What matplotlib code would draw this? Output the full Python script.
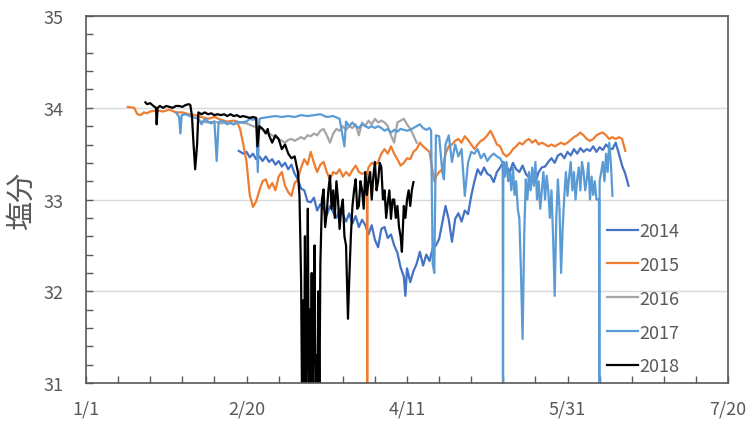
import matplotlib.pyplot as plt
from matplotlib.ticker import MultipleLocator
import numpy as np

plt.rcParams['font.family'] = ['Noto Sans CJK JP', 'DejaVu Sans']

# day of year (1/1 = 0) and salinity for each year
days_2014 = [47.6, 49, 50, 51, 52, 53, 54, 55, 56, 57, 58, 59, 60, 61, 62, 63, 64, 65, 66, 67,
             68, 69, 70, 71, 72, 73, 74, 75, 76, 77, 78, 79, 80, 81, 82, 83, 84, 85, 86, 87,
             88, 89, 90, 91, 92, 93, 94, 95, 96, 97, 98, 99, 99.5, 100, 101, 102, 103, 104, 105, 106,
             107, 108, 109, 110, 111, 112, 113, 114, 115, 116, 117, 118, 119, 120, 121, 122, 123, 124, 125, 126,
             127, 128, 129, 130, 131, 132, 133, 134, 135, 136, 137, 138, 139, 140, 141, 142, 143, 144, 145, 146,
             147, 148, 149, 150, 151, 152, 153, 154, 155, 156, 157, 158, 159, 160, 161, 162, 163, 164, 165, 166,
             167, 168, 169]
sal_2014 = [33.53, 33.5, 33.52, 33.46, 33.5, 33.44, 33.47, 33.42, 33.47, 33.41, 33.44, 33.38, 33.42, 33.36, 33.4, 33.33, 33.38, 33.28, 33.22, 33.12,
            33.1, 32.98, 32.97, 33.02, 32.88, 32.95, 32.9, 32.83, 32.93, 32.86, 32.8, 32.9, 32.84, 32.76, 32.85, 32.74, 32.82, 32.7, 32.78, 32.72,
            32.62, 32.72, 32.56, 32.48, 32.68, 32.7, 32.58, 32.62, 32.5, 32.42, 32.26, 32.16, 31.95, 32.25, 32.1, 32.22, 32.3, 32.43, 32.28, 32.4,
            32.33, 32.47, 32.5, 32.57, 32.75, 32.93, 32.78, 32.54, 32.79, 32.85, 32.76, 32.88, 32.84, 33.04, 33.2, 33.33, 33.27, 33.35, 33.28, 33.26,
            33.19, 33.3, 33.35, 33.41, 33.36, 33.3, 33.4, 33.33, 33.3, 33.37, 33.28, 33.24, 33.2, 33.19, 33.3, 33.35, 33.36, 33.41, 33.45, 33.4,
            33.48, 33.5, 33.45, 33.52, 33.48, 33.55, 33.5, 33.56, 33.52, 33.55, 33.53, 33.58, 33.52, 33.57, 33.54, 33.6, 33.56, 33.55, 33.62, 33.5,
            33.37, 33.28, 33.15]

days_2015 = [13, 15, 16, 17, 18, 19, 20, 22, 24, 26, 28, 30, 32, 34, 36, 38, 40, 42, 44, 46,
             47, 48, 49, 50, 51, 52, 53, 54, 55, 56, 57, 58, 59, 60, 61, 62, 63, 64, 65, 66,
             67, 68, 69, 70, 71, 72, 73, 74, 75, 76, 77, 78, 79, 80, 81, 82, 83, 84, 85, 86,
             87.5, 87.6, 87.7, 88, 89, 90, 91, 92, 93, 94, 95, 96, 97, 98, 99, 100, 101, 102, 103, 104,
             105, 106, 107, 108, 108.6, 109, 110, 111, 112, 113, 114, 115, 116, 117, 118, 119, 120, 121, 122, 123,
             124, 125, 126, 127, 128, 129, 130, 131, 132, 133, 134, 135, 136, 137, 138, 139, 140, 141, 142, 143,
             144, 145, 146, 147, 148, 149, 150, 151, 152, 153, 154, 155, 156, 157, 158, 159, 160, 161, 162, 163,
             164, 165, 166, 167, 168]
sal_2015 = [34.01, 34.0, 33.93, 33.92, 33.95, 33.94, 33.96, 33.97, 33.96, 33.98, 33.95, 33.95, 33.93, 33.92, 33.9, 33.88, 33.9, 33.87, 33.85, 33.86,
            33.85, 33.77, 33.6, 33.41, 33.05, 32.92, 32.98, 33.1, 33.2, 33.22, 33.12, 33.18, 33.1, 33.25, 33.3, 33.15, 33.08, 33.04, 33.18, 33.22,
            33.35, 33.44, 33.38, 33.52, 33.4, 33.3, 33.38, 33.41, 33.3, 33.22, 33.3, 33.28, 33.33, 33.25, 33.3, 33.26, 33.32, 33.37, 33.3, 33.28,
            33.3, 30.8, 33.3, 33.35, 33.4, 33.38, 33.41, 33.5, 33.55, 33.5, 33.58, 33.5, 33.44, 33.37, 33.4, 33.45, 33.44, 33.52, 33.55, 33.62,
            33.58, 33.55, 33.52, 33.3, 33.19, 33.25, 33.3, 33.33, 33.5, 33.58, 33.6, 33.64, 33.66, 33.62, 33.69, 33.65, 33.6, 33.55, 33.6, 33.64,
            33.66, 33.7, 33.75, 33.68, 33.6, 33.58, 33.5, 33.47, 33.5, 33.55, 33.58, 33.62, 33.6, 33.64, 33.66, 33.62, 33.65, 33.6, 33.62, 33.6,
            33.58, 33.6, 33.58, 33.6, 33.62, 33.6, 33.62, 33.65, 33.68, 33.7, 33.73, 33.7, 33.66, 33.64, 33.66, 33.7, 33.72, 33.73, 33.7, 33.66,
            33.68, 33.66, 33.68, 33.66, 33.53]

days_2016 = [36, 38, 40, 42, 44, 46, 48, 50, 52, 54, 55, 56, 57, 58, 59, 60, 61, 62, 63, 64,
             65, 66, 67, 68, 69, 70, 71, 72, 73, 74, 75, 76, 77, 78, 79, 80, 81, 82, 83, 84,
             85, 86, 87, 88, 89, 90, 91, 92, 93, 94, 95, 96, 97, 98, 99, 100, 101, 102, 103]
sal_2016 = [33.85, 33.84, 33.85, 33.83, 33.84, 33.82, 33.84, 33.83, 33.8, 33.78, 33.77, 33.74, 33.72, 33.7, 33.68, 33.66, 33.64, 33.62, 33.65, 33.66,
            33.64, 33.66, 33.68, 33.66, 33.7, 33.69, 33.72, 33.7, 33.75, 33.77, 33.7, 33.62, 33.72, 33.77, 33.75, 33.8, 33.76, 33.8, 33.78, 33.82,
            33.7, 33.84, 33.8, 33.86, 33.82, 33.88, 33.84, 33.86, 33.84, 33.8, 33.7, 33.62, 33.84, 33.86, 33.88, 33.82, 33.77, 33.7, 33.62]

days_2017 = [28, 29, 29.4, 29.8, 31, 33, 35, 36, 37, 38, 39, 40, 40.7, 41.3, 42, 43, 44, 45, 46, 47,
             48, 50, 51, 52, 53, 53.5, 54, 55, 57, 59, 61, 63, 65, 67, 69, 71, 73, 75, 77, 79,
             80.5, 81, 82, 83, 84, 85, 86, 87, 88, 89, 90, 91, 92, 93, 94, 95, 96, 97, 98, 99,
             100, 101, 102, 103, 104, 105, 106, 107, 107.5, 108, 108.5, 109, 110, 111, 111.5, 112, 113, 114, 115, 116,
             117, 118, 119, 120, 121, 122, 123, 124, 125, 126, 127, 128, 129, 129.8, 129.9, 130.0, 130.5, 131, 131.5, 132,
             132.5, 133, 133.5, 134, 134.5, 135, 135.5, 136, 136.5, 137, 137.5, 138, 138.5, 139, 139.5, 140, 140.5, 141, 141.5, 142,
             142.5, 143, 143.5, 144, 144.5, 145, 145.5, 146, 146.5, 147, 147.5, 148, 148.5, 149, 149.5, 150, 150.5, 151, 151.5, 152,
             152.5, 153, 153.5, 154, 154.5, 155, 155.5, 156, 156.5, 157, 157.5, 158, 158.5, 159, 159.8, 159.9, 160.0, 160.5, 161, 161.5,
             162, 162.5, 163, 163.5, 164]
sal_2017 = [33.95, 33.9, 33.72, 33.92, 33.93, 33.9, 33.88, 33.82, 33.88, 33.85, 33.83, 33.85, 33.42, 33.84, 33.86, 33.85, 33.82, 33.84, 33.82, 33.85,
            33.84, 33.85, 33.88, 33.87, 33.88, 33.3, 33.88, 33.89, 33.9, 33.91, 33.9, 33.91, 33.9, 33.92, 33.91, 33.92, 33.93, 33.9, 33.91, 33.88,
            33.58, 33.85, 33.8, 33.84, 33.8, 33.78, 33.82, 33.8, 33.78, 33.8, 33.78, 33.8, 33.78, 33.75, 33.77, 33.73, 33.76, 33.74, 33.77, 33.76,
            33.75, 33.76, 33.78, 33.8, 33.82, 33.78, 33.76, 33.78, 33.75, 32.3, 32.2, 33.7, 33.69, 33.3, 33.22, 33.6, 33.7, 33.41, 33.6, 33.47,
            33.55, 33.04, 33.4, 33.52, 33.5, 33.55, 33.45, 33.5, 33.42, 33.47, 33.5, 33.47, 33.45, 33.4, 30.8, 33.4, 33.25, 33.41, 33.2, 33.3,
            33.1, 33.35, 33.05, 33.2, 32.9, 32.79, 32.2, 31.48, 32.6, 33.22, 33.0, 33.3, 33.1, 33.35, 33.15, 33.41, 33.0, 33.2, 32.9, 33.1,
            33.3, 33.0, 33.26, 33.1, 32.8, 33.1, 32.6, 31.95, 32.8, 33.22, 32.9, 32.2, 32.7, 33.04, 33.3, 33.04, 33.25, 33.41, 33.1, 33.3,
            33.0, 33.22, 33.35, 33.1, 33.41, 33.3, 33.1, 33.22, 33.4, 33.0, 33.25, 33.05, 33.2, 33.0, 33.0, 30.8, 33.2, 33.3, 33.41, 33.2,
            33.5, 33.3, 33.62, 33.4, 33.04]

days_2018 = [18.5, 19, 20, 21, 21.8, 22.0, 22.3, 23, 24, 25, 26, 27, 28, 29, 30, 31, 32, 32.5, 33, 33.5,
             34, 34.6, 35, 36, 37, 38, 39, 40, 41, 42, 43, 44, 45, 46, 47, 48, 49, 50, 51, 52,
             53, 53.4, 54, 55, 56, 56.6, 57, 58, 59, 60, 61, 62, 63, 64, 65, 66, 66.5, 67, 67.3, 67.6,
             67.9, 68.2, 68.5, 68.8, 69.1, 69.4, 69.7, 70, 70.3, 70.6, 70.9, 71.2, 71.5, 71.8, 72.1, 72.4, 72.7, 73, 73.5, 74,
             74.5, 75, 75.5, 76, 76.5, 77, 77.5, 78, 78.5, 79, 79.5, 80, 80.5, 81, 81.6, 82, 82.5, 83, 83.5, 84,
             84.5, 85, 85.5, 86, 86.5, 87, 87.5, 88, 88.5, 89, 89.5, 90, 90.5, 91, 91.5, 92, 92.5, 93, 93.5, 94,
             94.5, 95, 95.5, 96, 96.5, 97, 97.5, 98, 98.4, 99, 99.5, 100, 100.5, 101, 101.5, 102]
sal_2018 = [34.06, 34.04, 34.05, 34.02, 34.0, 33.82, 34.0, 34.02, 34.0, 34.02, 34.01, 34.0, 34.02, 34.02, 34.01, 34.03, 34.04, 34.03, 33.91, 33.6,
            33.33, 33.6, 33.95, 33.93, 33.95, 33.93, 33.94, 33.92, 33.93, 33.92, 33.93, 33.91, 33.93, 33.91, 33.92, 33.9, 33.91, 33.9, 33.89, 33.9,
            33.89, 33.58, 33.8, 33.77, 33.72, 33.77, 33.7, 33.62, 33.7, 33.66, 33.55, 33.6, 33.5, 33.45, 33.47, 33.3, 33.04, 32.13, 30.8, 31.9,
            30.8, 32.6, 30.8, 31.5, 32.9, 30.8, 31.8, 30.8, 32.2, 30.8, 31.77, 32.5, 30.8, 31.3, 30.8, 32.0, 30.8, 32.3, 33.0, 33.11,
            32.7, 32.86, 33.1, 33.26, 32.9, 33.1, 32.8, 33.2, 33.0, 32.68, 32.9, 33.0, 32.6, 32.5, 31.7, 32.13, 32.6, 32.93, 33.1, 33.22,
            32.9, 32.93, 33.2, 33.1, 32.9, 33.3, 33.05, 33.2, 33.3, 33.0, 33.25, 33.41, 33.1, 33.2, 33.4, 33.35, 33.0, 33.1, 32.8, 32.97,
            33.1, 32.79, 33.0, 33.0, 32.8, 32.93, 32.7, 32.6, 32.43, 32.93, 32.8, 33.0, 33.1, 32.93, 33.1, 33.19]

years = ['2014', '2015', '2016', '2017', '2018']
colors = ['#4472C4', '#ED7D31', '#A5A5A5', '#5B9BD5', '#000000']
all_days = [days_2014, days_2015, days_2016, days_2017, days_2018]
all_sal = [sal_2014, sal_2015, sal_2016, sal_2017, sal_2018]

xtick_pos = [0, 50, 100, 150, 200]
xtick_labels = ['1/1', '2/20', '4/11', '5/31', '7/20']

fig = plt.figure(figsize=(7.5, 4.27), dpi=100)
ax = fig.add_axes([0.1147, 0.1007, 0.856, 0.8593])

for d, s, c, y in zip(all_days, all_sal, colors, years):
    ax.plot(np.asarray(d), np.asarray(s), color=c, lw=1.6, label=y)

ax.set_xlim(0, 200)
ax.set_ylim(31, 35)
ax.set_xticks(xtick_pos)
ax.set_xticklabels(xtick_labels)
ax.xaxis.set_minor_locator(MultipleLocator(10))
ax.set_yticks([31, 32, 33, 34, 35])
ax.yaxis.set_minor_locator(MultipleLocator(0.2))
ax.grid(True, axis='y', color='#D9D9D9', lw=1.0)
ax.set_axisbelow(True)

for sp in ax.spines.values():
    sp.set_color('#595959')
    sp.set_linewidth(1.2)
ax.tick_params(which='both', direction='in', color='#595959', width=1.0)
ax.tick_params(which='major', length=5)
ax.tick_params(which='minor', length=5)
ax.tick_params(axis='y', which='major', pad=16, labelsize=13, labelcolor='#595959')
ax.tick_params(axis='x', which='major', pad=12, labelsize=13, labelcolor='#595959')
ax.set_ylabel('塩分', fontsize=21, color='#595959', labelpad=5)

ax.legend(loc='upper left', bbox_to_anchor=(0.8, 0.495), bbox_transform=fig.transFigure,
          frameon=False, fontsize=13, labelcolor='#595959', handlelength=1.7,
          handletextpad=0.1, labelspacing=0.88, borderaxespad=0)

fig.savefig('out.png', dpi=100)
